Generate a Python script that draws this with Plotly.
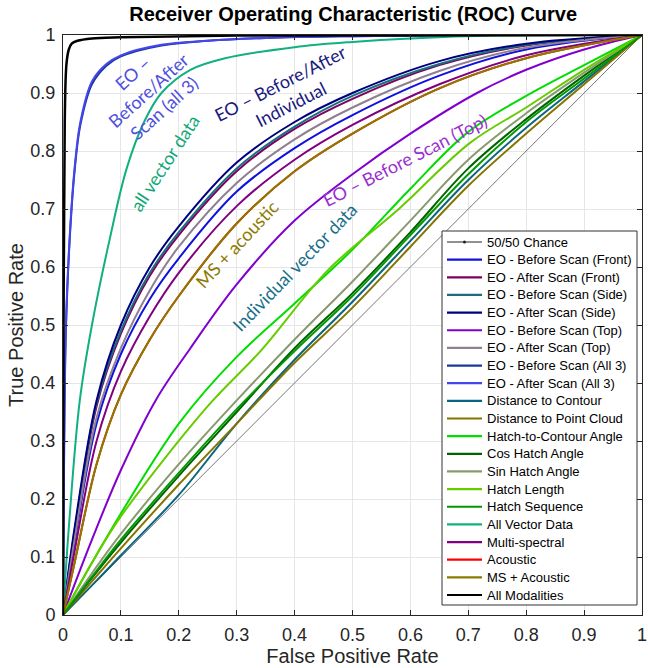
import plotly.graph_objects as go

# ---- tick labels ----
tick_vals = [0, 0.1, 0.2, 0.3, 0.4, 0.5, 0.6, 0.7, 0.8, 0.9, 1]
tick_text = ["0", "0.1", "0.2", "0.3", "0.4", "0.5", "0.6", "0.7", "0.8", "0.9", "1"]

# ---- ROC data (false positive rate / true positive rate) ----
chance_fpr = [0, 1]
chance_tpr = [0, 1]

eo_grid_fpr = [0, 0.02, 0.058, 0.1, 0.15, 0.2, 0.3, 0.4, 0.5, 0.65, 0.8, 1]
eo_before_front_tpr = [0, 0.125, 0.33, 0.45, 0.545, 0.615, 0.73, 0.805, 0.862, 0.93, 0.975, 1]
eo_after_front_tpr = [0, 0.14, 0.36, 0.485, 0.585, 0.655, 0.765, 0.838, 0.89, 0.948, 0.982, 1]
eo_before_side_tpr = [0, 0.145, 0.365, 0.49, 0.59, 0.66, 0.77, 0.842, 0.895, 0.95, 0.983, 1]
eo_after_side_tpr = [0, 0.15, 0.37, 0.5, 0.6, 0.67, 0.78, 0.85, 0.9, 0.955, 0.985, 1]
eo_after_top_tpr = [0, 0.13, 0.34, 0.46, 0.56, 0.635, 0.745, 0.82, 0.875, 0.938, 0.978, 1]
ms_tpr = [0, 0.11, 0.3, 0.42, 0.515, 0.59, 0.705, 0.785, 0.845, 0.915, 0.965, 1]
ms_acoustic_tpr = [0, 0.09, 0.26, 0.38, 0.475, 0.55, 0.675, 0.765, 0.83, 0.908, 0.96, 1]
acoustic_tpr = [0, 0.09, 0.26, 0.38, 0.475, 0.55, 0.675, 0.765, 0.83, 0.908, 0.96, 1]

eo_before_top_fpr = [0, 0.05, 0.1, 0.16, 0.22, 0.3, 0.4, 0.5, 0.6, 0.715, 0.8, 0.9, 1]
eo_before_top_tpr = [0, 0.13, 0.25, 0.37, 0.46, 0.57, 0.68, 0.76, 0.83, 0.9, 0.94, 0.975, 1]

all3_fpr = [0, 0.002, 0.005, 0.012, 0.02, 0.03, 0.05, 0.075, 0.1, 0.17, 0.25, 0.35, 0.5, 0.7, 1]
eo_before_all3_tpr = [0, 0.29, 0.49, 0.655, 0.765, 0.845, 0.915, 0.947, 0.963, 0.982, 0.99, 0.995, 0.998, 1, 1]
eo_after_all3_tpr = [0, 0.3, 0.5, 0.66, 0.77, 0.85, 0.92, 0.95, 0.965, 0.983, 0.99, 0.995, 0.998, 1, 1]

all_vec_fpr = [0, 0.01, 0.029, 0.05, 0.08, 0.11, 0.14, 0.17, 0.22, 0.28, 0.4, 0.5, 0.6, 0.75, 1]
all_vec_tpr = [0, 0.15, 0.37, 0.5, 0.645, 0.77, 0.85, 0.9, 0.94, 0.96, 0.979, 0.988, 0.994, 0.999, 1]

all_mod_fpr = [0, 0.001, 0.003, 0.006, 0.01, 0.015, 0.025, 0.05, 0.1, 0.3, 1]
all_mod_tpr = [0, 0.5, 0.85, 0.95, 0.975, 0.985, 0.99, 0.994, 0.996, 0.999, 1]

vec_fpr = [0, 0.05, 0.1, 0.2, 0.3, 0.4, 0.5, 0.6, 0.7, 0.8, 0.9, 1]
hatch_contour_tpr = [0, 0.09, 0.175, 0.33, 0.445, 0.537, 0.63, 0.735, 0.833, 0.895, 0.948, 1]
hatch_length_fpr = [0, 0.05, 0.1, 0.25, 0.343, 0.458, 0.58, 0.703, 0.8, 0.9, 1]
hatch_length_tpr = [0, 0.09, 0.17, 0.36, 0.457, 0.595, 0.7, 0.814, 0.875, 0.94, 1]
sin_hatch_tpr = [0, 0.072, 0.14, 0.26, 0.37, 0.475, 0.575, 0.68, 0.785, 0.865, 0.935, 1]
cos_hatch_tpr = [0, 0.064, 0.125, 0.24, 0.35, 0.46, 0.555, 0.66, 0.77, 0.855, 0.93, 1]
hatch_seq_tpr = [0, 0.066, 0.13, 0.245, 0.355, 0.455, 0.55, 0.655, 0.76, 0.85, 0.925, 1]
dist_cloud_tpr = [0, 0.058, 0.115, 0.225, 0.33, 0.435, 0.53, 0.635, 0.74, 0.83, 0.915, 1]
dist_contour_tpr = [0, 0.051, 0.103, 0.207, 0.33, 0.44, 0.54, 0.645, 0.75, 0.84, 0.92, 1]

# (legend name, fpr, tpr, colour, line width)
series = [
    ("EO - Before Scan (Front)", eo_grid_fpr, eo_before_front_tpr, "#1010e0", 2),
    ("EO - After Scan (Front)", eo_grid_fpr, eo_after_front_tpr, "#80005f", 2),
    ("EO - Before Scan (Side)", eo_grid_fpr, eo_before_side_tpr, "#17707f", 2),
    ("EO - After Scan (Side)", eo_grid_fpr, eo_after_side_tpr, "#00007f", 2),
    ("EO - Before Scan (Top)", eo_before_top_fpr, eo_before_top_tpr, "#8000d0", 2),
    ("EO - After Scan (Top)", eo_grid_fpr, eo_after_top_tpr, "#8f7f90", 2),
    ("EO - Before Scan (All 3)", all3_fpr, eo_before_all3_tpr, "#1a3a99", 2),
    ("EO - After Scan (All 3)", all3_fpr, eo_after_all3_tpr, "#4545f0", 2),
    ("Distance to Contour", vec_fpr, dist_contour_tpr, "#0a6680", 2),
    ("Distance to Point Cloud", vec_fpr, dist_cloud_tpr, "#857400", 2),
    ("Hatch-to-Contour Angle", vec_fpr, hatch_contour_tpr, "#00dd00", 2),
    ("Cos Hatch Angle", vec_fpr, cos_hatch_tpr, "#006400", 2),
    ("Sin Hatch Angle", vec_fpr, sin_hatch_tpr, "#8a9a70", 2),
    ("Hatch Length", hatch_length_fpr, hatch_length_tpr, "#66cc00", 2),
    ("Hatch Sequence", vec_fpr, hatch_seq_tpr, "#009900", 2),
    ("All Vector Data", all_vec_fpr, all_vec_tpr, "#10b080", 2),
    ("Multi-spectral", eo_grid_fpr, ms_tpr, "#800080", 2),
    ("Acoustic", eo_grid_fpr, acoustic_tpr, "#ff0000", 2),
    ("MS + Acoustic", eo_grid_fpr, ms_acoustic_tpr, "#8c7a00", 2),
    ("All Modalities", all_mod_fpr, all_mod_tpr, "#000000", 2.5),
]

W, H = 648, 668
ML, MR, MT, MB = 63, 6, 35, 53
PW, PH = W - ML - MR, H - MT - MB


def px_x(px):
    return (px - ML) / PW


def px_y(py):
    return (H - MB - py) / PH


fig = go.Figure()
fig.add_trace(go.Scatter(
    x=chance_fpr, y=chance_tpr, name="50/50 Chance", mode="lines+markers",
    line=dict(color="#555555", width=0.8), marker=dict(size=3, color="#444444"),
    showlegend=False,
))
for name, fx, ty, col, w in series:
    fig.add_trace(go.Scatter(
        x=fx, y=ty, name=name, mode="lines", showlegend=False,
        line=dict(color=col, width=w, shape="spline", smoothing=1.0),
    ))

# curve-group labels written along the curves
label_font = "Lato, Open Sans, sans-serif"
labels = [
    ("EO –<br>Before/After<br>Scan (all 3)", 0.147, 0.905, -42, "#5050e0"),
    ("all vector data", 0.175, 0.78, -57, "#10a878"),
    ("EO – Before/After<br>Individual", 0.384, 0.9, -27, "#1a1a80"),
    ("EO – Before Scan (Top)", 0.59, 0.785, -27, "#9a30d0"),
    ("MS + acoustic", 0.30, 0.64, -47, "#8c7a00"),
    ("Individual vector data", 0.40, 0.60, -46, "#1a6f8a"),
]
for txt, ax_, ay_, ang, col in labels:
    fig.add_annotation(x=ax_, y=ay_, xref="x", yref="y", text=txt, showarrow=False,
                       textangle=ang, font=dict(family=label_font, size=18, color=col))

# legend box drawn in paper coordinates
LEG_L, LEG_R, LEG_T, LEG_B = 442, 637, 231, 605
ROW0, ROW_STEP = 242, 17.65
SAMPLE_L, SAMPLE_R, TEXT_L = 447, 482, 485
fig.add_shape(type="rect", xref="paper", yref="paper",
              x0=px_x(LEG_L), x1=px_x(LEG_R), y0=px_y(LEG_B), y1=px_y(LEG_T),
              line=dict(color="#333333", width=1), fillcolor="white", layer="above")
legend_rows = [("50/50 Chance", "#222222", 1)] + [(s[0], s[3], s[4]) for s in series]
for i, (name, col, w) in enumerate(legend_rows):
    yy = px_y(ROW0 + i * ROW_STEP)
    fig.add_shape(type="line", xref="paper", yref="paper", layer="above",
                  x0=px_x(SAMPLE_L), x1=px_x(SAMPLE_R), y0=yy, y1=yy,
                  line=dict(color=col, width=1 if i == 0 else 2.2))
    if i == 0:
        cx, cy = px_x((SAMPLE_L + SAMPLE_R) / 2), yy
        fig.add_shape(type="circle", xref="paper", yref="paper", layer="above",
                      x0=cx - 1.5 / PW, x1=cx + 1.5 / PW, y0=cy - 1.5 / PH, y1=cy + 1.5 / PH,
                      fillcolor="#222222", line=dict(width=0))
    fig.add_annotation(x=px_x(TEXT_L), y=yy, xref="paper", yref="paper", text=name,
                       showarrow=False, xanchor="left", yanchor="middle",
                       font=dict(family="Liberation Sans, Arial", size=13, color="black"))

axis_common = dict(
    range=[0, 1], tickmode="array", tickvals=tick_vals, ticktext=tick_text,
    showgrid=True, gridcolor="#e6e6e6", gridwidth=1, automargin=False,
    zeroline=False, showline=True, linecolor="#262626", linewidth=1, mirror="ticks",
    ticks="inside", ticklen=5, tickcolor="#262626", ticklabeloverflow="allow",
    tickfont=dict(family="Liberation Sans, Arial", size=18, color="#262626"),
)
fig.update_xaxes(**axis_common, ticklabelstandoff=3,
                 title=dict(text="False Positive Rate",
                            font=dict(family="Liberation Sans, Arial", size=20, color="#262626"),
                            standoff=4))
fig.update_yaxes(**axis_common, ticklabelstandoff=3,
                 title=dict(text="True Positive Rate",
                            font=dict(family="Liberation Sans, Arial", size=20, color="#262626"),
                            standoff=1))

fig.update_layout(
    width=W, height=H,
    margin=dict(l=ML, r=MR, t=MT, b=MB),
    paper_bgcolor="white", plot_bgcolor="white",
    title=dict(text="<b>Receiver Operating Characteristic (ROC) Curve</b>",
               x=0.545, xanchor="center", y=1 - 14 / H, yanchor="middle", yref="container",
               font=dict(family="Liberation Sans, Arial", size=20, color="black")),
    showlegend=False,
)

fig.write_html("out.html")
